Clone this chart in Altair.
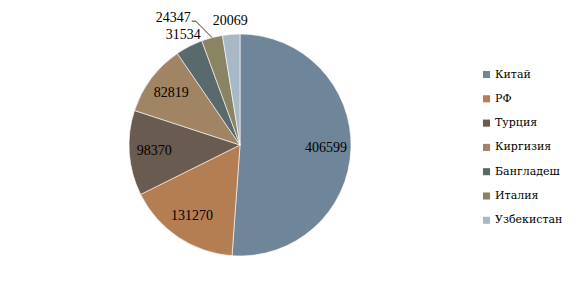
import altair as alt
import pandas as pd

countries = ["Китай", "РФ", "Турция", "Киргизия", "Бангладеш", "Италия", "Узбекистан"]
values = [406599, 131270, 98370, 82819, 31534, 24347, 20069]
colors = ["#6F8599", "#B57D52", "#6A5B50", "#A08463", "#5A696B", "#8B8462", "#A9B8C7"]

df = pd.DataFrame({"country": countries, "value": values, "order": list(range(len(countries)))})

CX, CY, R = 240, 145, 111
FONT = "Liberation Serif"
LFONT = "DejaVu Serif"

color = alt.Color(
    "country:N",
    sort=countries,
    scale=alt.Scale(domain=countries, range=colors),
    legend=alt.Legend(
        title=None,
        orient="none",
        legendX=481,
        legendY=69,
        symbolType="square",
        symbolSize=50,
        symbolStrokeWidth=0,
        labelFont=LFONT,
        labelFontSize=11,
        labelColor="#000000",
        rowPadding=12.3,
        labelOffset=3,
    ),
)

pie = alt.Chart(df).mark_arc(outerRadius=R, stroke="#ffffff", strokeWidth=0.6).encode(
    theta=alt.Theta("value:Q", stack=True),
    order=alt.Order("order:Q", sort="ascending"),
    color=color,
)

geo = alt.Chart(df).transform_window(
    cum="sum(value)", sort=[alt.SortField("order", order="ascending")], frame=[None, 0]
).transform_joinaggregate(total="sum(value)").transform_calculate(
    share="datum.value / datum.total",
    mid="(datum.cum - datum.value / 2) / datum.total * 2 * PI",
).transform_calculate(
    r="datum.share < 0.05 ? 124 : 86",
).transform_calculate(
    lx=f"{CX} + datum.r * sin(datum.mid)",
    ly=f"{CY} - datum.r * cos(datum.mid)",
    ex=f"{CX} + {R} * sin(datum.mid)",
    ey=f"{CY} - {R} * cos(datum.mid)",
    bx=f"{CX} + 128 * sin(datum.mid) - 12",
    by=f"{CY} - 128 * cos(datum.mid)",
)

labels = geo.transform_filter("datum.country != 'Италия'").mark_text(
    font=FONT, fontSize=14, color="#000000"
).encode(
    x=alt.X("lx:Q", scale=None),
    y=alt.Y("ly:Q", scale=None),
    text=alt.Text("value:Q", format="d"),
)

ital = geo.transform_filter("datum.country == 'Италия'")

ital_label = ital.mark_text(
    font=FONT, fontSize=14, color="#000000", align="right", dx=-5, dy=-3
).encode(
    x=alt.X("bx:Q", scale=None),
    y=alt.Y("by:Q", scale=None),
    text=alt.Text("value:Q", format="d"),
)

leader1 = ital.mark_rule(color="#000000", strokeWidth=0.8).encode(
    x=alt.X("ex:Q", scale=None), y=alt.Y("ey:Q", scale=None),
    x2="bx:Q", y2="by:Q",
)
leader2 = ital.transform_calculate(bx0="datum.bx - 4").mark_rule(color="#000000", strokeWidth=0.8).encode(
    x=alt.X("bx0:Q", scale=None), y=alt.Y("by:Q", scale=None),
    x2="bx:Q", y2="by:Q",
)

chart = alt.layer(pie, labels, leader1, leader2, ital_label).properties(
    width=480,
    height=290,
    autosize=alt.AutoSizeParams(type="none"),
    padding={"left": 0, "top": 0, "right": 100, "bottom": 0},
).configure_view(stroke=None).configure_legend(labelFont=LFONT)

chart.save("out.html", embed_options={"renderer": "svg", "actions": False})
